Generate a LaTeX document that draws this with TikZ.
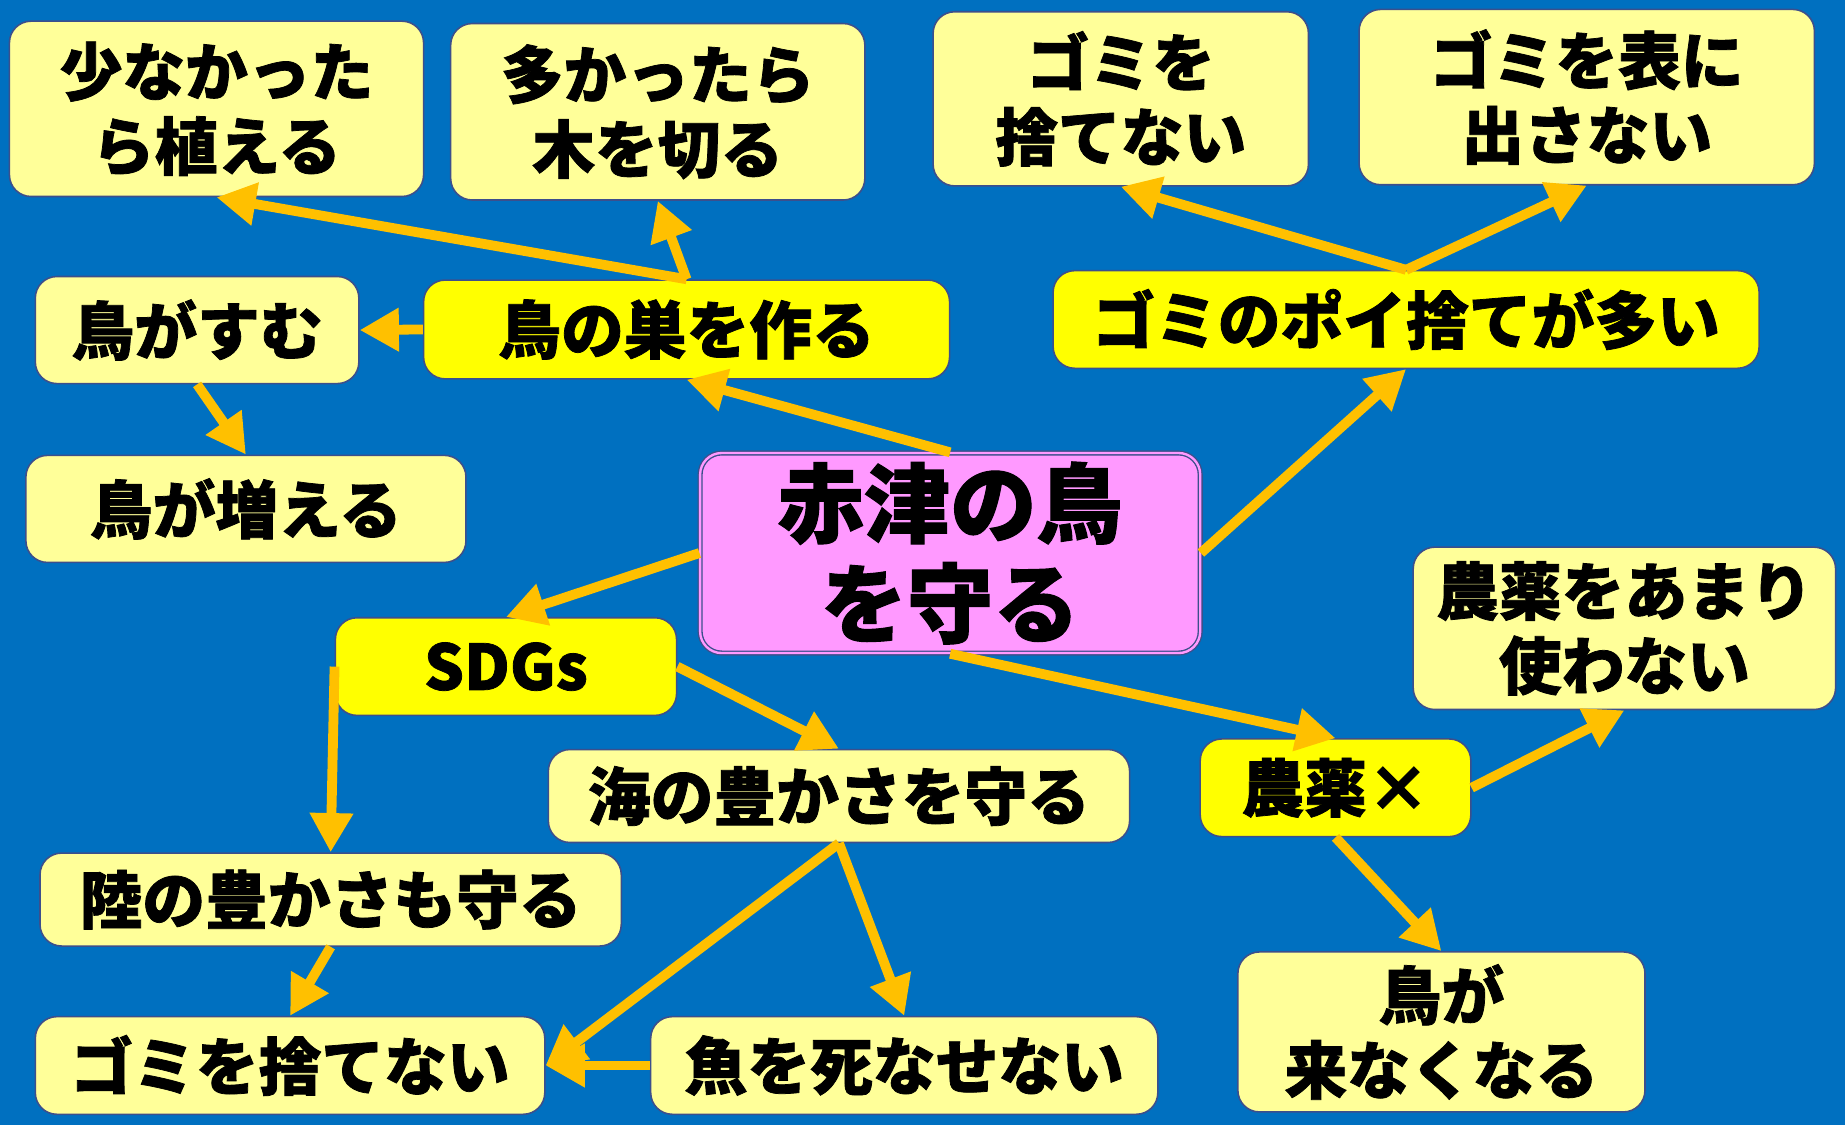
\documentclass[tikz,border=0pt]{standalone}
\usepackage{fontspec}
\setmainfont{Noto Sans CJK JP}[BoldFeatures={FakeBold=1.2}]
\usetikzlibrary{arrows.meta}

\definecolor{seablue}{HTML}{0070C0}
\definecolor{paleyellow}{HTML}{FFFF99}
\definecolor{brightyellow}{HTML}{FFFF00}
\definecolor{pinkfill}{HTML}{FF99FF}
\definecolor{arrowgold}{HTML}{FFC000}
\definecolor{edgeblue}{HTML}{3C4F8C}

\tikzset{
  box/.style={draw=edgeblue, line width=0.8pt, rounded corners=11pt, fill=paleyellow,
    inner sep=0pt, align=center, font=\bfseries\fontsize{32}{38}\selectfont},
  keybox/.style={box, fill=brightyellow},
  boxsize/.style 2 args={minimum width=#1*0.6pt, minimum height=#2*0.6pt},
  link/.style={arrowgold, line width=5pt, -{Triangle[length=20pt,width=21pt]}}
}

\begin{document}
\begin{tikzpicture}[x=0.6pt, y=-0.6pt]

\fill[seablue] (0,0) rectangle (1568,956);
\useasboundingbox (0,0) rectangle (1568,956);

\node[box, boxsize={352}{149}] (few) at (184,92.5) {少なかった\\ら植える};
\node[box, boxsize={352}{150}] (many) at (559,95) {多かったら\\木を切る};
\node[box, boxsize={319}{148}] (notrash) at (952.5,84) {ゴミを\\捨てない};
\node[box, boxsize={387}{149}] (inside) at (1348.5,82.5) {ゴミを表に\\出さない};

\node[box, boxsize={275}{91}] (live) at (167.5,280.5) {鳥がすむ};
\node[keybox, boxsize={447}{84}] (nest) at (583.5,280) {鳥の巣を作る};
\node[keybox, boxsize={600}{83}] (litter) at (1195,271.5) {ゴミのポイ捨てが多い};
\node[box, boxsize={374}{91}] (grow) at (209,432.5) {鳥が増える};

\node[box, boxsize={425}{170}, fill=pinkfill, double=pinkfill, double distance=1.2pt, line width=0.7pt,
  font=\bfseries\fontsize{44}{51}\selectfont] (protect) at (807.5,470) {赤津の鳥\\を守る};

\node[keybox, boxsize={290}{83}] (sdgs) at (430,566.5) {SDGs};
\node[box, boxsize={494}{79}] (sea) at (713,676.5) {海の豊かさを守る};
\node[keybox, boxsize={230}{83}] (agri) at (1135,669.5) {農薬×};
\node[box, boxsize={359}{138}] (less) at (1380.5,534) {農薬をあまり\\使わない};
\node[box, boxsize={494}{79}] (land) at (281,764.5) {陸の豊かさも守る};
\node[box, boxsize={433}{83}] (trash) at (246.5,905.5) {ゴミを捨てない};
\node[box, boxsize={431}{83}] (fish) at (768.5,905.5) {魚を死なせない};
\node[box, boxsize={346}{136}] (gone) at (1225,877) {鳥が\\来なくなる};

\foreach \from/\to in {nest.north/few.south, nest.north/many.south, nest.west/live.east,
  live.south/grow.north, protect.north/nest.south, protect.east/litter.south,
  litter.north/notrash.south, litter.north/inside.south, protect.west/sdgs.north,
  protect.south/agri.north, agri.east/less.south, agri.south/gone.north,
  sdgs.east/sea.north, sdgs.west/land.north, land.south/trash.north,
  sea.south/trash.east, sea.south/fish.north, fish.west/trash.east} {
\draw[link] (\from) -- (\to);
}

\end{tikzpicture}
\end{document}
